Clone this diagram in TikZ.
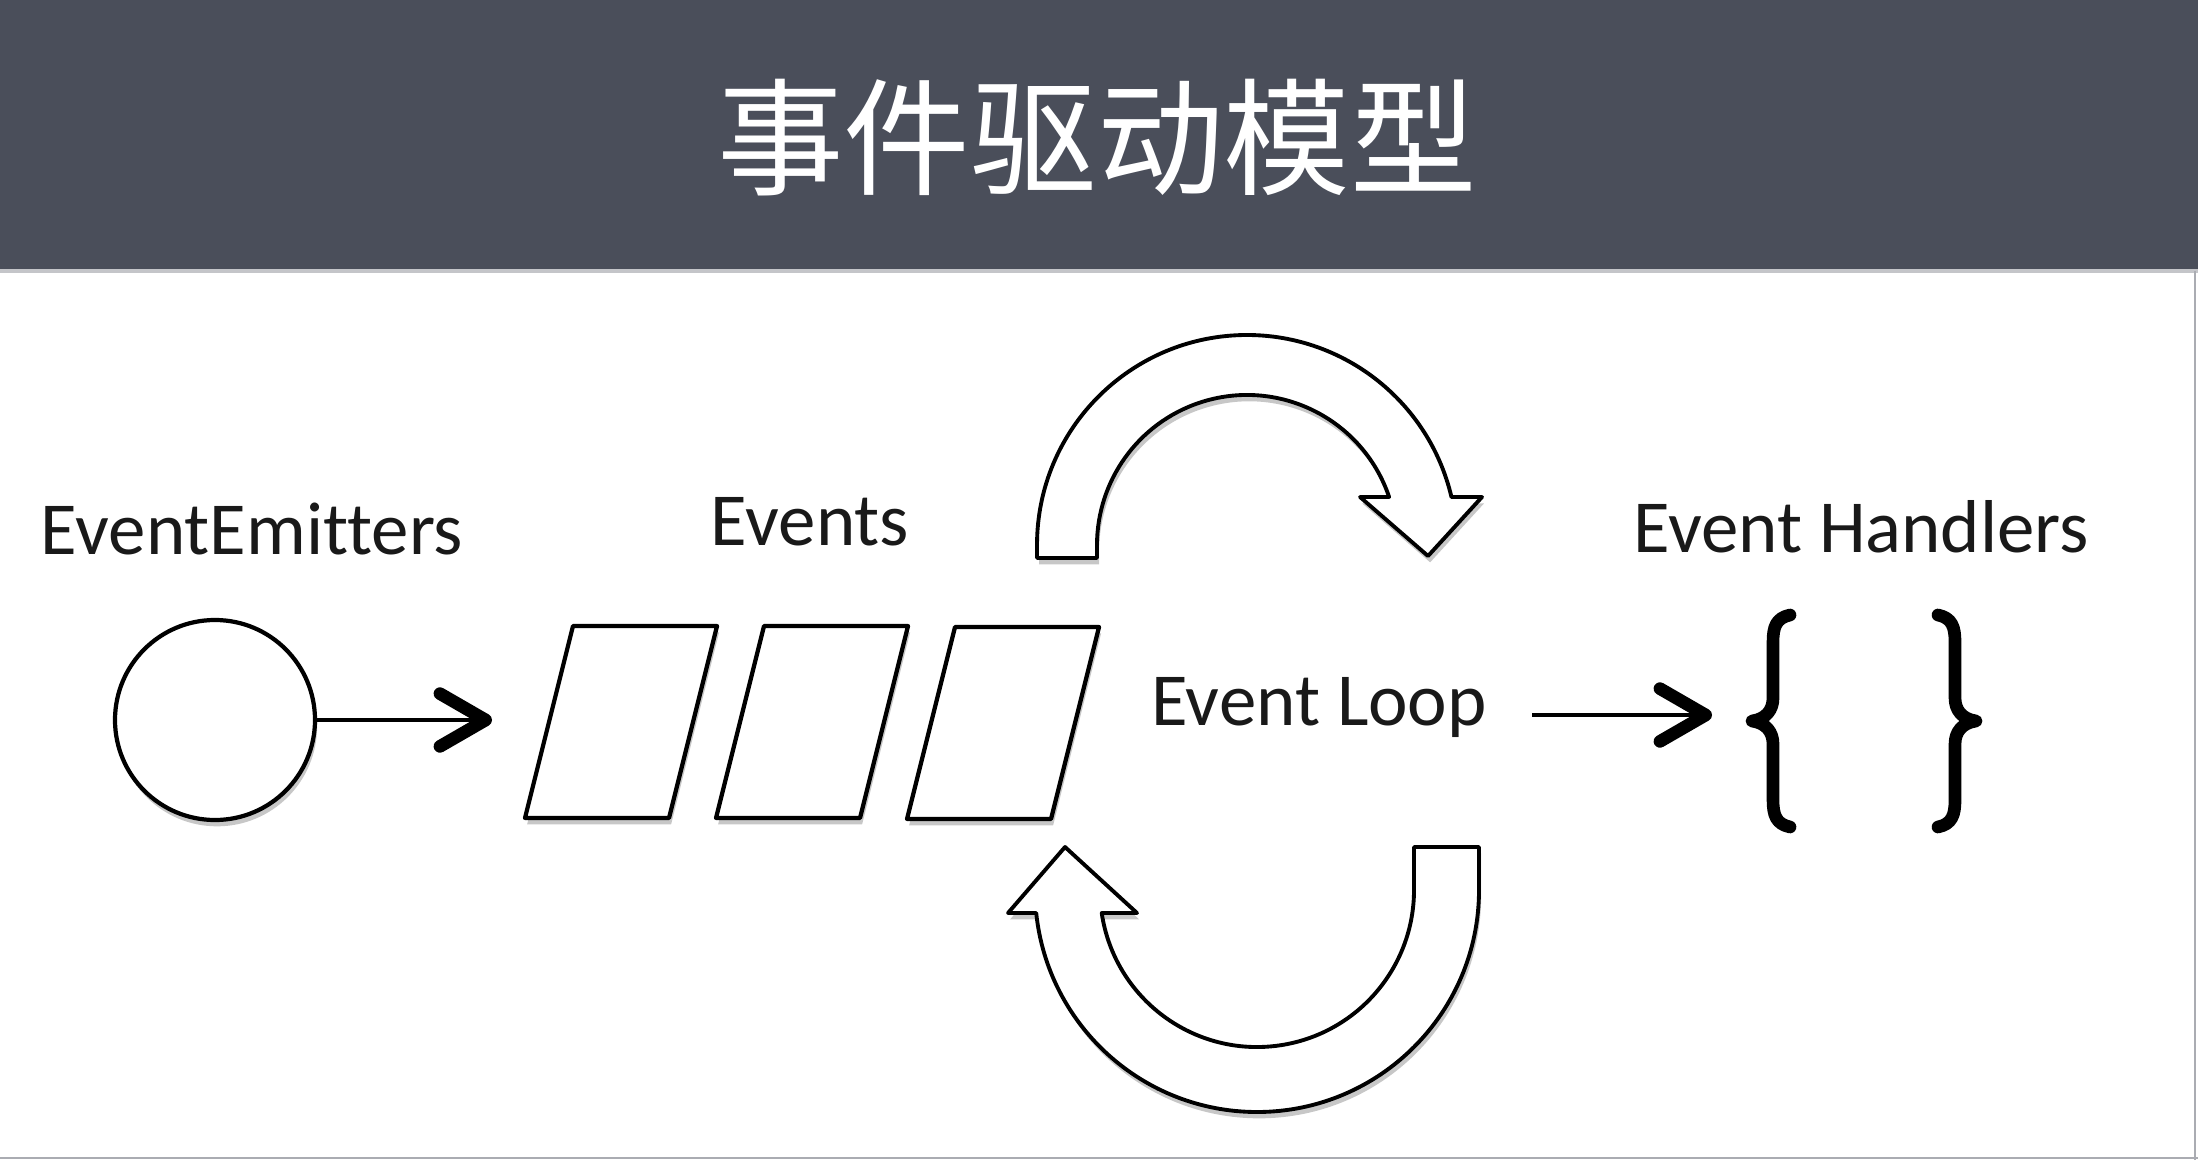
\documentclass[tikz,border=0pt]{standalone}
\usepackage{fontspec}
\setmainfont{Carlito}[Ligatures=NoCommon]
\newfontfamily\cjk{Noto Sans CJK SC}
\usetikzlibrary{arrows.meta,shadows}
\definecolor{board}{RGB}{74,78,90}
\definecolor{edgegray}{RGB}{170,172,178}
\begin{document}
\begin{tikzpicture}[x=0.01cm,y=0.01cm,
  evshape/.style={draw=black,line width=1.2pt,fill=white,line join=round,
    drop shadow={shadow xshift=0.6pt,shadow yshift=-1.8pt,opacity=0.22,fill=black}},
  lbl/.style={inner sep=0pt,anchor=base,font=\fontsize{21.3}{25}\selectfont,text=black!90},
  conn/.style={line width=1.4pt,-{Straight Barb[length=13pt,width=15pt,line width=3.6pt,round]}},
  bracepath/.style={line width=3.6pt,line cap=round,line join=round}]
\useasboundingbox (0,0) rectangle (2198,1160);
% header
\fill[board] (0,890) rectangle (2198,1160);
\draw[edgegray!70,line width=1pt] (0,889) -- (2198,889);
\node[inner sep=0pt,text=white,font=\cjk\fontsize{36}{40}\selectfont] (title) at (1097,1022) {事件驱动模型};
% frame lines
\draw[edgegray,line width=0.8pt] (2195,0) -- (2195,889);
\draw[edgegray,line width=0.8pt] (0,2) -- (2198,2);
% labels
\node[lbl] (emitlbl) at (252,606) {EventEmitters};
\node[lbl] (evlbl) at (810,615) {Events};
\node[lbl] (loop) at (1319,435) {Event Loop};
\node[lbl] (handlbl) at (1861,607) {Event Handlers};
% emitter
\node[circle,evshape,minimum size=200*0.01cm,inner sep=0pt] (emit) at (215,440) {};
\coordinate (q1) at (492,440);
\draw[conn] (emit.east) -- (q1);
% events queue
\draw[evshape] (525,342) -- (573,534) -- (717,534) -- (669,342) -- cycle;
\draw[evshape] (716,342) -- (764,534) -- (908,534) -- (860,342) -- cycle;
\draw[evshape] (907,341) -- (955,533) -- (1099,533) -- (1051,341) -- cycle;
% loop arrows
\draw[evshape,line width=1.1pt] (1037,602) -- (1037,615) arc[start angle=180,end angle=13.2,radius=210]
  -- (1482,663) -- (1428,604) -- (1360,663) -- (1389.1,663)
  arc[start angle=18.66,end angle=180,radius=150] -- (1097,602) -- cycle;
\draw[evshape,line width=1.1pt] (1479,313) -- (1479,270) arc[start angle=0,end angle=-174.05,radius=222]
  -- (1008,247) -- (1065,313) -- (1137,247) -- (1101.7,247)
  arc[start angle=-171.58,end angle=0,radius=157] -- (1414,313) -- cycle;
% loop to handlers
\coordinate (a2s) at (1532,445);
\coordinate (a2e) at (1712,445);
\draw[conn] (a2s) -- (a2e);
% braces
\draw[bracepath] (1790,545) .. controls (1776,542) and (1773,533) .. (1773,518) -- (1773,462)
  .. controls (1773,450) and (1766,441) .. (1752,439)
  .. controls (1766,437) and (1773,428) .. (1773,416) -- (1773,360)
  .. controls (1773,345) and (1776,336) .. (1790,333);
\draw[bracepath] (1938,545) .. controls (1952,542) and (1955,533) .. (1955,518) -- (1955,462)
  .. controls (1955,450) and (1962,441) .. (1976,439)
  .. controls (1962,437) and (1955,428) .. (1955,416) -- (1955,360)
  .. controls (1955,345) and (1952,336) .. (1938,333);
\end{tikzpicture}
\end{document}
